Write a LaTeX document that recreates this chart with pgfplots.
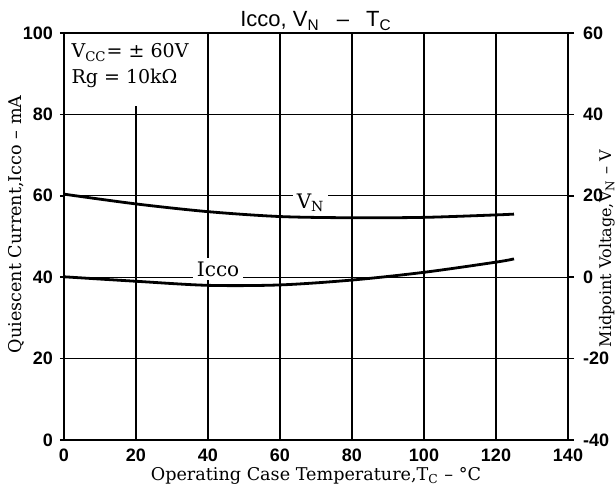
\documentclass[border=0pt]{standalone}
\usepackage{fontspec}
\setmainfont{DejaVu Serif}
\newfontfamily\ticksf{Liberation Sans}[BoldFont={Liberation Sans Bold}]
\newfontfamily\titlesf{Liberation Sans}
\usepackage{pgfplots}
\pgfplotsset{compat=1.18}
\begin{document}
\begin{tikzpicture}
\useasboundingbox (-32pt,-28.5pt) rectangle (275.5pt,220pt);
\clip (-32pt,-28.5pt) rectangle (275.5pt,220pt);
\begin{axis}[
  scale only axis, width=252pt, height=203.5pt,
  xmin=0, xmax=140, ymin=0, ymax=100,
  xtick={0,20,...,140}, ytick={0,20,...,100},
  grid=major, grid style={black, line width=0.6pt},
  axis line style={black, line width=1pt},
  x tick style={draw=none},
  y tick style={black, line width=0.8pt},
  tick align=outside, major tick length=2pt,
  /pgf/number format/assume math mode=true,
  ticklabel style={font=\ticksf\bfseries\fontsize{9}{10}\selectfont},
  xticklabel style={yshift=1pt},
  title={Icco, V\textsubscript{N}\enspace\ –\ \enspace T\textsubscript{C}},
  title style={font=\titlesf\fontsize{11}{12}\selectfont, anchor=base, at={(axis description cs:0.5,1)}, yshift=-3pt},
  xlabel={Operating Case Temperature,T\textsubscript{C} – °C},
  xlabel style={font=\fontsize{8.8}{10}\selectfont, anchor=base, at={(axis description cs:0.5,0)}, yshift=-20.5pt},
  ylabel={Quiescent Current,Icco – mA},
  ylabel style={font=\fontsize{8.8}{10}\selectfont, anchor=center, at={(axis description cs:-0.095,0.53)}},
]
\fill[white] (axis cs:0.3,82) rectangle (axis cs:38,99.7);
\node[anchor=north west, align=left, font=\fontsize{9.5}{13}\selectfont, inner sep=0pt] at (axis cs:2,97.5)
  {V\textsubscript{CC}= ± 60V\\Rg = 10kΩ};
\addplot[black, line width=1.4pt, smooth, tension=0.5] coordinates {
  (0,40.1) (20,39.0) (40,38.0) (60,38.1) (80,39.3) (100,41.2) (120,43.7) (125,44.5)
};
\node[fill=white, inner sep=2pt, font=\fontsize{10}{12}\selectfont] at (axis cs:42.8,42) {Icco};
\node[fill=white, inner sep=2pt, font=\fontsize{10}{12}\selectfont] at (axis cs:68.5,58.3) {V\textsubscript{N}};
\end{axis}
\begin{axis}[
  scale only axis, width=252pt, height=203.5pt,
  xmin=0, xmax=140, ymin=-40, ymax=60,
  axis x line=none, axis y line*=right,
  ytick={-40,-20,...,60},
  axis line style={black, line width=1pt},
  y tick style={black, line width=0.8pt},
  tick align=outside, major tick length=3pt,
  /pgf/number format/assume math mode=true,
  ticklabel style={font=\ticksf\bfseries\fontsize{9}{10}\selectfont},
  yticklabel style={xshift=1pt},
  ylabel={Midpoint Voltage,V\textsubscript{N} – V},
  ylabel style={font=\fontsize{8}{10}\selectfont, anchor=center, rotate=0, at={(axis description cs:1.077,0.47)}},
]
\addplot[black, line width=1.4pt, smooth, tension=0.5] coordinates {
  (0,20.4) (20,18.0) (40,16.1) (60,14.9) (80,14.6) (100,14.7) (120,15.3) (125,15.5)
};
\end{axis}
\end{tikzpicture}
\end{document}
